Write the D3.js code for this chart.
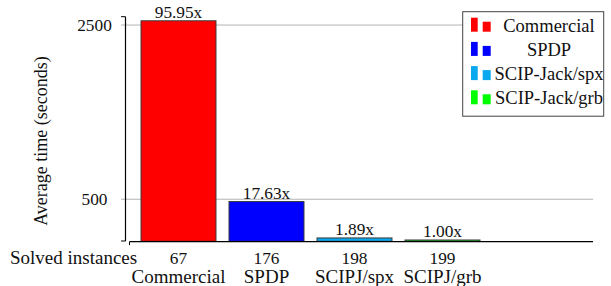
<!DOCTYPE html>
<html>
<head>
<meta charset="utf-8">
<script src="https://cdn.jsdelivr.net/npm/d3@7"></script>
<style>
  html, body { margin: 0; padding: 0; background: #fff; }
</style>
</head>
<body>
<div id="chart"></div>
<script>
// datos
const solvers = ["Commercial", "SPDP", "SCIPJ/spx", "SCIPJ/grb"];
const legendNames = ["Commercial", "SPDP", "SCIP-Jack/spx", "SCIP-Jack/grb"];
const avgTime = [2543, 468, 50, 26.5];
const speedup = ["95.95x", "17.63x", "1.89x", "1.00x"];
const solved = [67, 176, 198, 199];
const yTicks = [500, 2500];
const colors = ["#ff0000", "#0000ff", "#0aa8ee", "#00ff00"];

const W = 611, H = 286;
const FONT = "Liberation Serif";
const axisX = 125.5, plotRight = 593, yTop = 16.7, xAxisY = 241.7;
const fsNum = 17.3, fsTxt = 19;

const svg = d3.select("#chart").append("svg").attr("width", W).attr("height", H);

const y = d3.scaleLinear().domain([0, 2590]).range([242.3, yTop]);
const x = d3.scaleBand().domain(solvers).range([134.5, 486.5]).paddingInner(0.148).paddingOuter(0.074);

function texto(sel, size) {
  return sel.attr("font-family", FONT).attr("font-size", size).attr("fill", "#111");
}

// grid
const yAxis = d3.axisLeft(y).tickValues(yTicks).tickSize(0).tickFormat("");
const gy = svg.append("g").attr("transform", `translate(${axisX},0)`).call(yAxis);
gy.select(".domain").remove();
gy.selectAll(".tick line")
  .attr("x1", -4.5).attr("x2", plotRight - axisX)
  .attr("stroke", "#b4b4b4").attr("stroke-width", 1);
gy.selectAll(".tick").append("text")
  .attr("x", 94.5 - axisX).attr("dy", "0.33em")
  .attr("text-anchor", "middle")
  .call(texto, fsNum)
  .text((d) => d);

// bars
const datos = solvers.map((s, i) => ({ s, t: avgTime[i], sp: speedup[i], n: solved[i], c: colors[i], name: legendNames[i] }));

svg.selectAll("rect.bar")
  .data(datos)
  .join("rect")
  .attr("class", "bar")
  .attr("x", (d) => x(d.s))
  .attr("width", x.bandwidth())
  .attr("y", (d) => y(d.t))
  .attr("height", (d) => y(0) - y(d.t) - 1)
  .attr("fill", (d) => d.c)
  .attr("stroke", "#3a3a3a")
  .attr("stroke-width", 1);

svg.selectAll("text.lbl")
  .data(datos)
  .join("text")
  .attr("class", "lbl")
  .attr("x", (d) => x(d.s) + x.bandwidth() / 2)
  .attr("y", (d) => y(d.t) - 2.5)
  .attr("text-anchor", "middle")
  .call(texto, fsNum)
  .text((d) => d.sp);

// ejes
svg.append("line").attr("x1", axisX).attr("x2", axisX).attr("y1", yTop).attr("y2", 241)
  .attr("stroke", "#000").attr("stroke-width", 1.2);
svg.append("line").attr("x1", axisX - 4.5).attr("x2", axisX).attr("y1", yTop).attr("y2", yTop)
  .attr("stroke", "#000").attr("stroke-width", 1);
svg.append("line").attr("x1", axisX - 4.5).attr("x2", axisX).attr("y1", 241).attr("y2", 241)
  .attr("stroke", "#000").attr("stroke-width", 1);
svg.append("line").attr("x1", 129.5).attr("x2", plotRight).attr("y1", xAxisY).attr("y2", xAxisY)
  .attr("stroke", "#000").attr("stroke-width", 1.2);
svg.append("line").attr("x1", 129.5).attr("x2", 129.5).attr("y1", xAxisY).attr("y2", xAxisY + 3.5)
  .attr("stroke", "#000").attr("stroke-width", 1);

// etiquetas x
const gx = svg.selectAll("g.xl").data(datos).join("g").attr("class", "xl")
  .attr("transform", (d) => `translate(${x(d.s) + x.bandwidth() / 2},0)`);
gx.append("text").attr("y", 264).attr("text-anchor", "middle").call(texto, fsNum).text((d) => d.n);
gx.append("text").attr("y", 282.5).attr("text-anchor", "middle").call(texto, fsTxt).text((d) => d.s);

svg.append("text").attr("x", 10).attr("y", 264).call(texto, fsTxt).text("Solved instances");

svg.append("text")
  .attr("transform", `translate(47,141) rotate(-90)`)
  .attr("text-anchor", "middle")
  .call(texto, 18)
  .text("Average time (seconds)");

// leyenda
const leg = svg.append("g");
leg.append("rect").attr("x", 462.7).attr("y", 11.7).attr("width", 141).attr("height", 104.5)
  .attr("fill", "#fff").attr("stroke", "#444").attr("stroke-width", 1);
const filas = leg.selectAll("g.row").data(datos).join("g").attr("class", "row")
  .attr("transform", (d, i) => `translate(0,${i * 24.2})`);
filas.append("rect").attr("x", 471).attr("y", 17.7).attr("width", 6.7).attr("height", 14).attr("fill", (d) => d.c);
filas.append("rect").attr("x", 482.7).attr("y", 21.7).attr("width", 8).attr("height", 10).attr("fill", (d) => d.c);
filas.append("text").attr("x", 549).attr("y", 31.5).attr("text-anchor", "middle")
  .call(texto, 18.5).text((d) => d.name);
</script>
</body>
</html>
